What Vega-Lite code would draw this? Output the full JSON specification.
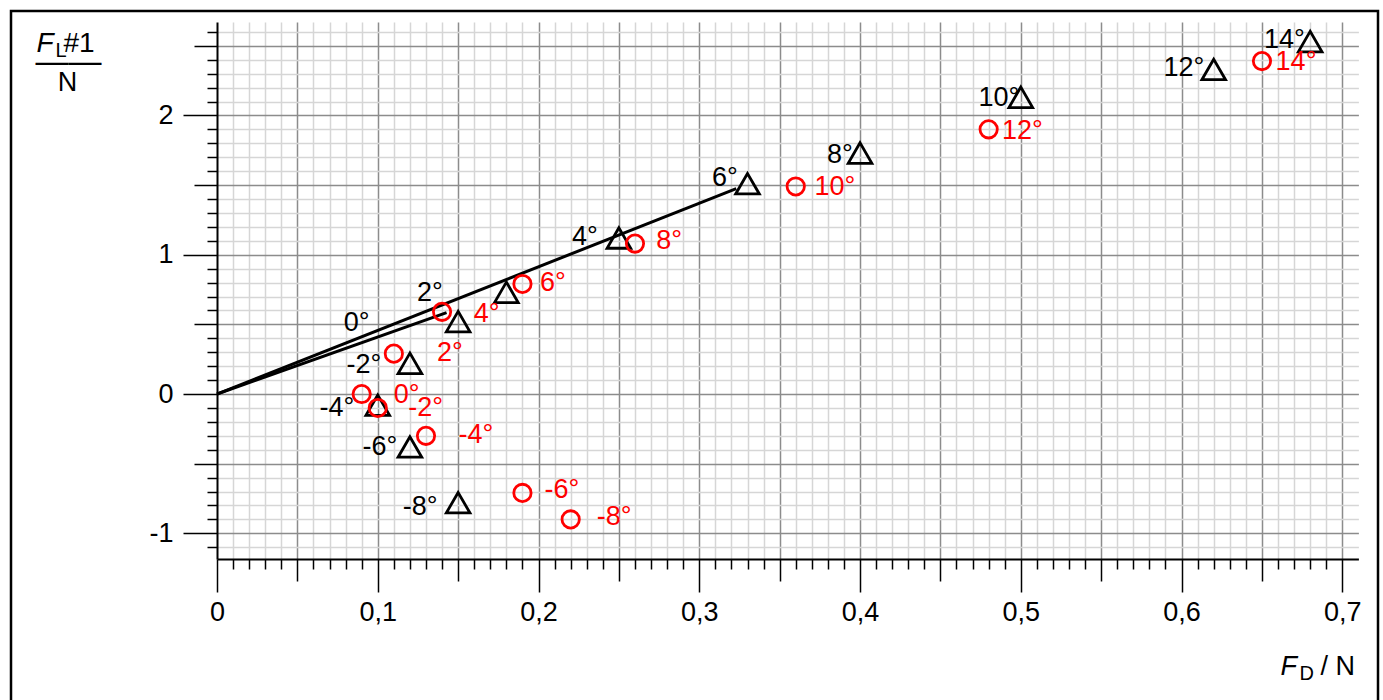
{
  "$schema": "https://vega.github.io/schema/vega-lite/v6.json",
  "width": 1367,
  "height": 700,
  "autosize": "none",
  "padding": {"left": 11, "top": 11, "right": 5, "bottom": 0},
  "background": "white",
  "view": {"stroke": "black", "strokeWidth": 2.5},
  "config": {"font": "Liberation Sans"},
  "datasets": {
    "lines": [
      {"FD": 0, "FL": 0, "line": "a"},
      {"FD": 0.323, "FL": 1.475, "line": "a"},
      {"FD": 0, "FL": 0, "line": "b"},
      {"FD": 0.1428, "FL": 0.585, "line": "b"}
    ],
    "tri": [
      {"FD": 0.68, "FL": 2.53, "alpha": 14},
      {"FD": 0.62, "FL": 2.33, "alpha": 12},
      {"FD": 0.50, "FL": 2.13, "alpha": 10},
      {"FD": 0.40, "FL": 1.73, "alpha": 8},
      {"FD": 0.33, "FL": 1.51, "alpha": 6},
      {"FD": 0.25, "FL": 1.12, "alpha": 4},
      {"FD": 0.18, "FL": 0.73, "alpha": 2},
      {"FD": 0.15, "FL": 0.52, "alpha": 0},
      {"FD": 0.12, "FL": 0.22, "alpha": -2},
      {"FD": 0.10, "FL": -0.08, "alpha": -4},
      {"FD": 0.12, "FL": -0.38, "alpha": -6},
      {"FD": 0.15, "FL": -0.78, "alpha": -8}
    ],
    "circ": [
      {"FD": 0.65, "FL": 2.39, "alpha": 14},
      {"FD": 0.48, "FL": 1.90, "alpha": 12},
      {"FD": 0.36, "FL": 1.49, "alpha": 10},
      {"FD": 0.26, "FL": 1.08, "alpha": 8},
      {"FD": 0.19, "FL": 0.79, "alpha": 6},
      {"FD": 0.14, "FL": 0.59, "alpha": 4},
      {"FD": 0.11, "FL": 0.29, "alpha": 2},
      {"FD": 0.09, "FL": 0.0, "alpha": 0},
      {"FD": 0.10, "FL": -0.10, "alpha": -2},
      {"FD": 0.13, "FL": -0.30, "alpha": -4},
      {"FD": 0.19, "FL": -0.71, "alpha": -6},
      {"FD": 0.22, "FL": -0.90, "alpha": -8}
    ],
    "trilab": [
      {"lx": 0.664, "ly": 2.54, "label": "14°"},
      {"lx": 0.6015, "ly": 2.344, "label": "12°"},
      {"lx": 0.4864, "ly": 2.126, "label": "10°"},
      {"lx": 0.3875, "ly": 1.716, "label": "8°"},
      {"lx": 0.316, "ly": 1.55, "label": "6°"},
      {"lx": 0.2289, "ly": 1.127, "label": "4°"},
      {"lx": 0.1325, "ly": 0.725, "label": "2°"},
      {"lx": 0.0869, "ly": 0.51, "label": "0°"},
      {"lx": 0.0914, "ly": 0.205, "label": "-2°"},
      {"lx": 0.0746, "ly": -0.10, "label": "-4°"},
      {"lx": 0.1014, "ly": -0.38, "label": "-6°"},
      {"lx": 0.1263, "ly": -0.811, "label": "-8°"}
    ],
    "circlab": [
      {"lx": 0.6712, "ly": 2.38, "label": "14°"},
      {"lx": 0.501, "ly": 1.888, "label": "12°"},
      {"lx": 0.3844, "ly": 1.488, "label": "10°"},
      {"lx": 0.2812, "ly": 1.098, "label": "8°"},
      {"lx": 0.209, "ly": 0.80, "label": "6°"},
      {"lx": 0.1678, "ly": 0.574, "label": "4°"},
      {"lx": 0.1449, "ly": 0.292, "label": "2°"},
      {"lx": 0.118, "ly": -0.007, "label": "0°"},
      {"lx": 0.1298, "ly": -0.103, "label": "-2°"},
      {"lx": 0.1611, "ly": -0.294, "label": "-4°"},
      {"lx": 0.2146, "ly": -0.689, "label": "-6°"},
      {"lx": 0.247, "ly": -0.881, "label": "-8°"}
    ]
  },
  "resolve": {"axis": {"x": "independent", "y": "independent"}},
  "layer": [
    {
      "data": {"name": "lines"},
      "transform": [{"filter": "datum.line == 'a'"}],
      "mark": {"type": "line", "color": "black", "strokeWidth": 3},
      "encoding": {
        "x": {
          "field": "FD", "type": "quantitative",
          "scale": {"domain": [0, 0.71], "range": [206, 1347.4], "nice": false, "zero": false},
          "axis": {
            "orient": "bottom", "offset": -152, "zindex": 0,
            "values": [0,0.01,0.02,0.03,0.04,0.05,0.06,0.07,0.08,0.09,0.1,0.11,0.12,0.13,0.14,0.15,0.16,0.17,0.18,0.19,0.2,0.21,0.22,0.23,0.24,0.25,0.26,0.27,0.28,0.29,0.3,0.31,0.32,0.33,0.34,0.35,0.36,0.37,0.38,0.39,0.4,0.41,0.42,0.43,0.44,0.45,0.46,0.47,0.48,0.49,0.5,0.51,0.52,0.53,0.54,0.55,0.56,0.57,0.58,0.59,0.6,0.61,0.62,0.63,0.64,0.65,0.66,0.67,0.68,0.69,0.7],
            "domain": true, "domainColor": "black", "domainWidth": 2,
            "ticks": true, "tickColor": "black", "tickWidth": 1.5,
            "tickSize": {"condition": [
              {"test": "round(datum.value*100) % 10 == 0", "value": 33},
              {"test": "round(datum.value*100) % 5 == 0", "value": 22}
            ], "value": 10},
            "grid": false,
            "labelExpr": "round(datum.value*100) % 10 == 0 ? (datum.value == 0 ? '0' : replace(format(datum.value, '.1f'), '.', ',')) : ''",
            "labelFont": "Liberation Sans", "labelFontSize": 27, "labelColor": "black",
            "labelPadding": 7, "labelOverlap": false, "labelBound": false, "labelFlush": false,
            "title": null
          }
        },
        "y": {
          "field": "FL", "type": "quantitative",
          "scale": {"domain": [-1.185, 2.67], "range": [548.1, 11.1], "nice": false, "zero": false},
          "axis": {
            "orient": "left", "offset": -206, "zindex": 0,
            "values": [-1.1,-1,-0.9,-0.8,-0.7,-0.6,-0.5,-0.4,-0.3,-0.2,-0.1,0,0.1,0.2,0.3,0.4,0.5,0.6,0.7,0.8,0.9,1,1.1,1.2,1.3,1.4,1.5,1.6,1.7,1.8,1.9,2,2.1,2.2,2.3,2.4,2.5,2.6],
            "domain": true, "domainColor": "black", "domainWidth": 2,
            "ticks": true, "tickColor": "black", "tickWidth": 1.5,
            "tickSize": {"condition": [
              {"test": "abs(round(datum.value*10)) % 10 == 0", "value": 34},
              {"test": "abs(round(datum.value*10)) % 5 == 0", "value": 23}
            ], "value": 10},
            "grid": true,
            "gridColor": {"condition": {"test": "abs(round(datum.value*10)) % 5 == 0", "value": "#8c8c8c"}, "value": "#d6d6d6"},
            "gridWidth": 1.5,
            "labelExpr": "abs(round(datum.value*10)) % 10 == 0 ? ('' + round(datum.value)) : ''",
            "labelFont": "Liberation Sans", "labelFontSize": 27, "labelColor": "black",
            "labelPadding": 10, "labelOverlap": false, "labelBound": false, "labelFlush": false,
            "title": null
          }
        }
      }
    },
    {
      "data": {"name": "lines"},
      "transform": [{"filter": "datum.line == 'b'"}],
      "mark": {"type": "line", "color": "black", "strokeWidth": 3},
      "encoding": {
        "x": {"field": "FD", "type": "quantitative", "scale": {"domain": [0, 0.71], "range": [206, 1347.4], "nice": false, "zero": false}, "axis": null},
        "y": {
          "field": "FL", "type": "quantitative",
          "scale": {"domain": [-1.185, 2.67], "range": [548.1, 11.1], "nice": false, "zero": false},
          "axis": {"orient": "left", "offset": 0, "domain": false, "ticks": false, "labels": false, "grid": false,
            "title": "N", "titleAngle": 0, "titleX": 56, "titleY": 79, "titleAlign": "center", "titleBaseline": "alphabetic",
            "titleFont": "Liberation Sans", "titleFontSize": 27, "titleFontWeight": "normal", "titleColor": "black"}
        }
      }
    },
    {
      "data": {"name": "tri"},
      "mark": {"type": "point", "shape": "triangle-up", "filled": false, "size": 560, "stroke": "black", "strokeWidth": 2.8, "opacity": 1},
      "encoding": {
        "x": {"field": "FD", "type": "quantitative", "scale": {"domain": [0, 0.71], "range": [206, 1347.4], "nice": false, "zero": false},
          "axis": {"orient": "top", "offset": 0, "zindex": 0, "domain": false, "ticks": false, "labels": false,
            "values": [0.01,0.02,0.03,0.04,0.05,0.06,0.07,0.08,0.09,0.1,0.11,0.12,0.13,0.14,0.15,0.16,0.17,0.18,0.19,0.2,0.21,0.22,0.23,0.24,0.25,0.26,0.27,0.28,0.29,0.3,0.31,0.32,0.33,0.34,0.35,0.36,0.37,0.38,0.39,0.4,0.41,0.42,0.43,0.44,0.45,0.46,0.47,0.48,0.49,0.5,0.51,0.52,0.53,0.54,0.55,0.56,0.57,0.58,0.59,0.6,0.61,0.62,0.63,0.64,0.65,0.66,0.67,0.68,0.69,0.7],
            "grid": true,
            "gridColor": {"condition": {"test": "round(datum.value*100) % 5 == 0", "value": "#8c8c8c"}, "value": "#d6d6d6"},
            "gridWidth": 1.5,
            "title": "F", "titleAngle": 0, "titleX": 1269, "titleY": 663.3, "titleAlign": "left", "titleBaseline": "alphabetic",
            "titleFont": "Liberation Sans", "titleFontSize": 27, "titleFontStyle": "italic", "titleFontWeight": "normal", "titleColor": "black"}},
        "y": {"field": "FL", "type": "quantitative", "scale": {"domain": [-1.185, 2.67], "range": [548.1, 11.1], "nice": false, "zero": false},
          "axis": {"orient": "left", "offset": 0, "domain": false, "ticks": false, "labels": false, "grid": false,
            "title": "F", "titleAngle": 0, "titleX": 25, "titleY": 40.7, "titleAlign": "left", "titleBaseline": "alphabetic",
            "titleFont": "Liberation Sans", "titleFontSize": 28, "titleFontStyle": "italic", "titleFontWeight": "normal", "titleColor": "black"}}
      }
    },
    {
      "data": {"name": "circ"},
      "mark": {"type": "point", "shape": "circle", "filled": false, "size": 300, "stroke": "#ff0000", "strokeWidth": 2.8, "opacity": 1},
      "encoding": {
        "x": {"field": "FD", "type": "quantitative", "scale": {"domain": [0, 0.71], "range": [206, 1347.4], "nice": false, "zero": false},
          "axis": {"orient": "bottom", "offset": 0, "domain": false, "ticks": false, "labels": false, "grid": false,
            "title": "D", "titleAngle": 0, "titleX": 1288, "titleY": -31.7, "titleAlign": "left", "titleBaseline": "alphabetic",
            "titleFont": "Liberation Sans", "titleFontSize": 20, "titleFontWeight": "normal", "titleColor": "black"}},
        "y": {"field": "FL", "type": "quantitative", "scale": {"domain": [-1.185, 2.67], "range": [548.1, 11.1], "nice": false, "zero": false},
          "axis": {"orient": "left", "offset": 0, "domain": false, "ticks": false, "labels": false, "grid": false,
            "title": "L", "titleAngle": 0, "titleX": 44, "titleY": 45, "titleAlign": "left", "titleBaseline": "alphabetic",
            "titleFont": "Liberation Sans", "titleFontSize": 20, "titleFontWeight": "normal", "titleColor": "black"}}
      }
    },
    {
      "data": {"name": "trilab"},
      "mark": {"type": "text", "font": "Liberation Sans", "fontSize": 27, "color": "black", "align": "center", "baseline": "middle"},
      "encoding": {
        "x": {"field": "lx", "type": "quantitative", "scale": {"domain": [0, 0.71], "range": [206, 1347.4], "nice": false, "zero": false},
          "axis": {"orient": "bottom", "offset": 0, "domain": false, "ticks": false, "labels": false, "grid": false,
            "title": "/ N", "titleAngle": 0, "titleX": 1309, "titleY": -36.7, "titleAlign": "left", "titleBaseline": "alphabetic",
            "titleFont": "Liberation Sans", "titleFontSize": 27, "titleFontWeight": "normal", "titleColor": "black"}},
        "y": {"field": "ly", "type": "quantitative", "scale": {"domain": [-1.185, 2.67], "range": [548.1, 11.1], "nice": false, "zero": false},
          "axis": {"orient": "left", "offset": 0, "domain": false, "ticks": false, "labels": false, "grid": false,
            "title": "#1", "titleAngle": 0, "titleX": 52, "titleY": 40.7, "titleAlign": "left", "titleBaseline": "alphabetic",
            "titleFont": "Liberation Sans", "titleFontSize": 28, "titleFontWeight": "normal", "titleColor": "black"}},
        "text": {"field": "label", "type": "nominal"}
      }
    },
    {
      "data": {"name": "circlab"},
      "mark": {"type": "text", "font": "Liberation Sans", "fontSize": 27, "color": "#ff0000", "align": "center", "baseline": "middle"},
      "encoding": {
        "x": {"field": "lx", "type": "quantitative", "scale": {"domain": [0, 0.71], "range": [206, 1347.4], "nice": false, "zero": false}, "axis": null},
        "y": {"field": "ly", "type": "quantitative", "scale": {"domain": [-1.185, 2.67], "range": [548.1, 11.1], "nice": false, "zero": false},
          "axis": {"orient": "left", "offset": 0, "domain": false, "ticks": false, "labels": false, "grid": false,
            "title": "——", "titleAngle": 0, "titleX": 57, "titleY": 60, "titleAlign": "center", "titleBaseline": "alphabetic",
            "titleFont": "Liberation Sans", "titleFontSize": 33, "titleFontWeight": "normal", "titleColor": "black"}},
        "text": {"field": "label", "type": "nominal"}
      }
    }
  ]
}
